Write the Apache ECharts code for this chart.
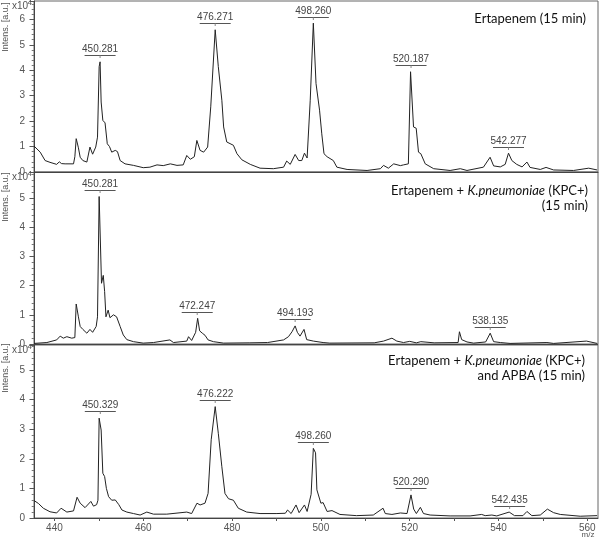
<!DOCTYPE html>
<html><head><meta charset="utf-8">
<script src="https://cdn.jsdelivr.net/npm/echarts@6/dist/echarts.min.js"></script>
<style>html,body{margin:0;padding:0;background:#fff}#c{width:600px;height:539px}</style>
</head><body><div id="c"></div>
<script>
// ---- Panel 1: Ertapenem (15 min)
const mz1 = [435.4,436.8,437.9,439.0,440.5,441.1,441.6,442.4,444.3,444.6,444.9,445.2,445.4,445.8,446.4,447.3,448.0,448.6,449.3,449.7,450.07,450.28,450.52,450.9,451.4,451.9,452.4,452.9,453.7,454.2,454.8,455.9,457.8,460.0,461.5,463.1,464.5,466.1,467.6,469.0,469.8,470.6,471.5,472.07,472.8,473.6,474.5,475.2,476.2,476.9,477.7,478.1,478.8,480.3,481.1,482.2,484.1,486.3,489.3,491.6,492.3,493.1,494.2,495.0,495.7,496.3,496.9,497.6,498.3,498.9,499.2,499.7,500.2,500.7,501.4,502.8,503.6,505.9,510.4,513.4,514.1,515.2,516.4,517.9,518.6,519.7,520.19,520.86,521.46,521.98,522.5,523.5,525.4,529.1,531.4,532.9,536.6,538.1,538.9,540.4,541.5,542.25,543.0,544.1,545.3,546.4,547.1,549.4,550.7,552.4,556.9,560.3,562.2];
const int1 = [1.02,0.78,0.45,0.38,0.30,0.40,0.33,0.32,0.32,0.60,1.31,1.10,0.95,0.58,0.45,0.39,0.98,0.70,0.98,1.37,4.14,4.33,2.75,2.03,1.93,1.11,1.00,0.78,0.85,0.80,0.45,0.32,0.26,0.17,0.19,0.28,0.25,0.32,0.26,0.28,0.65,0.50,0.60,1.24,0.85,0.78,0.98,2.56,5.59,4.14,2.82,1.77,1.18,1.05,0.72,0.48,0.30,0.15,0.13,0.19,0.43,0.30,0.69,0.45,0.45,0.74,0.55,2.82,5.85,3.48,3.50,2.43,1.50,0.72,0.60,0.45,0.19,0.10,0.06,0.13,0.26,0.15,0.32,0.25,0.28,0.32,3.94,1.77,1.72,0.78,0.72,0.32,0.13,0.06,0.13,0.06,0.19,0.58,0.24,0.20,0.30,0.74,0.45,0.30,0.20,0.39,0.18,0.10,0.18,0.08,0.06,0.15,0.08];
const peak1Text = ['450.281','476.271','498.260','520.187','542.277'];
const peak1MZ = [450.28,476.2,498.3,520.3,542.25];
const peak1Int = [4.33,5.59,5.85,3.94,0.74];

// ---- Panel 2: Ertapenem + K.pneumoniae (KPC+) (15 min)
const mz2 = [435.4,438.3,440.5,441.3,442.0,442.8,443.9,444.6,444.9,445.4,445.8,446.4,447.3,448.0,448.6,449.4,449.7,450.07,450.29,450.6,451.0,451.3,451.6,452.1,452.5,453.3,454.0,454.8,455.5,456.3,457.8,460.0,462.3,466.0,466.8,469.8,470.2,470.9,471.8,472.25,472.7,473.3,473.9,474.6,475.8,478.1,484.0,488.0,491.6,492.7,493.5,494.2,494.7,495.3,496.2,496.8,498.3,500.5,502.0,512.0,514.1,516.0,517.1,518.6,520.0,521.5,522.5,525.5,530.9,531.2,531.7,532.9,534.4,537.1,538.13,538.9,540.4,542.6,550.9,552.4,559.8,562.2];
const int2 = [0.02,0.05,0.14,0.27,0.20,0.25,0.20,0.22,1.37,0.93,0.60,0.50,0.37,0.50,0.40,0.60,0.93,5.05,5.03,2.08,2.35,1.80,0.93,1.16,0.90,1.00,0.93,0.60,0.31,0.15,0.08,0.03,0.05,0.14,0.05,0.10,0.25,0.12,0.40,0.88,0.45,0.37,0.30,0.14,0.08,0.03,0.04,0.05,0.14,0.25,0.42,0.62,0.40,0.27,0.50,0.15,0.10,0.05,0.03,0.04,0.10,0.20,0.10,0.05,0.09,0.04,0.08,0.04,0.05,0.42,0.15,0.07,0.03,0.07,0.37,0.08,0.05,0.02,0.05,0.02,0.10,0.02];
const peak2Text = ['450.281','472.247','494.193','538.135'];
const peak2MZ = [450.28,472.15,494.2,538.13];
const peak2Int = [5.05,0.88,0.62,0.37];

// ---- Panel 3: Ertapenem + K.pneumoniae (KPC+) and APBA (15 min)
const mz3 = [435.4,436.4,437.5,439.0,440.5,441.5,442.8,444.3,445.1,445.8,446.9,448.2,448.8,449.5,449.8,450.07,450.33,450.52,450.9,451.3,451.7,452.2,452.9,453.7,454.5,455.2,456.3,457.8,459.3,460.8,462.3,465.3,469.8,470.9,472.1,472.8,473.9,474.6,475.3,476.2,476.9,477.7,478.4,479.2,480.3,481.4,483.3,486.3,490.1,492.0,492.5,493.3,494.4,495.1,496.3,496.9,497.8,498.3,498.8,499.1,499.5,500.0,500.5,501.4,502.5,504.3,508.0,511.8,514.0,514.5,516.0,517.9,519.4,520.29,520.9,521.5,522.4,523.1,524.6,529.1,533.6,536.2,537.0,538.5,539.6,542.4,543.6,545.5,546.4,547.5,549.4,551.0,552.4,553.9,558.4,562.2];
const int3 = [0.59,0.49,0.33,0.21,0.17,0.33,0.20,0.24,0.70,0.50,0.35,0.56,0.40,0.45,0.60,3.37,3.40,2.97,1.51,1.40,1.00,0.72,0.60,0.61,0.45,0.27,0.20,0.15,0.10,0.20,0.13,0.13,0.20,0.15,0.50,0.44,0.50,0.83,2.64,3.76,2.86,1.73,0.83,0.65,0.60,0.33,0.20,0.15,0.15,0.16,0.27,0.15,0.44,0.18,0.44,0.22,0.80,2.35,2.20,0.95,0.90,0.50,0.52,0.22,0.25,0.12,0.08,0.10,0.33,0.15,0.12,0.17,0.15,0.78,0.30,0.15,0.36,0.15,0.10,0.07,0.07,0.12,0.08,0.10,0.07,0.20,0.08,0.08,0.22,0.08,0.10,0.30,0.18,0.12,0.06,0.08];
const peak3Text = ['450.329','476.222','498.260','520.290','542.435'];
const peak3MZ = [450.33,476.2,498.3,520.3,542.5];
const peak3Int = [3.40,3.76,2.35,0.78,0.20];

const xTicks = [440,450,460,470,480,490,500,510,520,530,540,550,560];
const xLabels = [440,460,480,500,520,540,560];
const yMax = [6.72, 5.89, 5.84];

const NARROW = "'Liberation Sans Narrow','Liberation Sans',Arial,sans-serif";
const GRAY = '#555';
const zip = (a, b) => a.map((v, i) => [v, b[i]]);

const grids = [
  {left: 34, right: 2, top: 1, height: 171},
  {left: 34, right: 2, top: 172, height: 172},
  {left: 34, right: 2, top: 345, height: 173}
].map(g => Object.assign(g, {show: true, borderColor: '#666', borderWidth: 1, containLabel: false}));

const xAxes = [0,1,2].map(i => ({
  type: 'value', gridIndex: i, min: 435.4, max: 562.4,
  axisLine: {show: true, onZero: false, lineStyle: {color: '#444', width: 1}},
  axisTick: i === 2 ? {show: true, length: 3, inside: false, customValues: xTicks, lineStyle: {color: '#555'}} : {show: false},
  axisLabel: i === 2 ? {show: true, customValues: xLabels, margin: 5, color: GRAY, fontSize: 10, fontFamily: NARROW} : {show: false},
  splitLine: {show: false}
}));

const yAxes = [0,1,2].map(i => ({
  type: 'value', gridIndex: i, min: 0, max: yMax[i], interval: 1,
  axisLine: {show: true, lineStyle: {color: '#444', width: 1}},
  axisTick: {show: true, length: 4.5, lineStyle: {color: '#555'}},
  minorTick: {show: true, splitNumber: 5, length: 2.3, lineStyle: {color: '#777'}},
  axisLabel: {margin: 9, color: GRAY, fontSize: 10, fontFamily: NARROW,
    formatter: v => Number.isInteger(Math.round(v*1000)/1000) && Math.abs(v - Math.round(v)) < 1e-6 ? String(Math.round(v)) : ''},
  splitLine: {show: false}
}));

function labelSeries(idx, mzs, ints, texts) {
  return {
    type: 'custom', xAxisIndex: idx, yAxisIndex: idx, clip: false, silent: true, z: 5,
    data: zip(mzs, ints),
    renderItem(params, api) {
      const p = api.coord([api.value(0), api.value(1)]);
      const txt = texts[params.dataIndex];
      const uy = Math.round(p[1] - 6.5) + 0.5;
      const w = 31;
      return {type: 'group', children: [
        {type: 'line', shape: {x1: p[0] - w/2, y1: uy, x2: p[0] + w/2, y2: uy}, style: {stroke: '#555', lineWidth: 1}},
        {type: 'line', shape: {x1: p[0], y1: uy, x2: p[0], y2: uy + 2.5}, style: {stroke: '#888', lineWidth: 1}},
        {type: 'text', style: {text: txt, x: p[0], y: uy - 1, align: 'center', verticalAlign: 'bottom',
          fontSize: 10, fontFamily: NARROW, fill: '#444'}}
      ]};
    }
  };
}

const spectra = [zip(mz1, int1), zip(mz2, int2), zip(mz3, int3)];
const series = spectra.map((d, i) => ({
  type: 'line', xAxisIndex: i, yAxisIndex: i, data: d, showSymbol: false, symbol: 'none',
  lineStyle: {color: '#222', width: 1}, smooth: false, z: 3
}));
series.push(labelSeries(0, peak1MZ, peak1Int, peak1Text));
series.push(labelSeries(1, peak2MZ, peak2Int, peak2Text));
series.push(labelSeries(2, peak3MZ, peak3Int, peak3Text));

const titleFont = {fontFamily: 'Lato, "Open Sans", sans-serif', fontSize: 13, fill: '#111'};
const rich = {
  n: {fontFamily: 'Lato, sans-serif', fontSize: 13, color: '#111'},
  i: {fontFamily: 'Lato, sans-serif', fontSize: 13, fontStyle: 'italic', color: '#111'}
};
function tText(text, x, y) {
  return {type: 'text', x: x, y: y, silent: true, style: Object.assign({text: text, align: 'right', verticalAlign: 'middle', rich: rich}, titleFont)};
}
function unitLabel(yTop) {
  return [
    {type: 'text', x: 12, y: yTop + 5, silent: true, style: {text: 'x10', fontSize: 10, fontFamily: NARROW, fill: GRAY, verticalAlign: 'middle'}},
    {type: 'text', x: 27.5, y: yTop + 1.5, silent: true, style: {text: '4', fontSize: 8, fontFamily: NARROW, fill: GRAY, verticalAlign: 'middle'}}
  ];
}
function intensLabel(cy) {
  return {type: 'text', x: 6, y: cy, rotation: Math.PI/2, silent: true,
    style: {text: 'Intens. [a.u.]', fontSize: 9, fontFamily: NARROW, fill: GRAY, align: 'center', verticalAlign: 'middle'}};
}

const graphics = [
  tText('{n|Ertapenem (15 min)}', 586, 19),
  tText('{n|Ertapenem + }{i|K.pneumoniae}{n| (KPC+)}', 588, 191),
  tText('{n|(15 min)}', 588, 206),
  tText('{n|Ertapenem + }{i|K.pneumoniae}{n| (KPC+)}', 585, 361),
  tText('{n|and APBA (15 min)}', 585, 376),
  intensLabel(27), intensLabel(197), intensLabel(368),
  {type: 'text', x: 588, y: 535, silent: true, style: {text: 'm/z', fontSize: 8, fontFamily: NARROW, fill: GRAY, align: 'center', verticalAlign: 'middle'}}
].concat(unitLabel(1), unitLabel(172), unitLabel(345));

const chart = echarts.init(document.getElementById('c'), null, {renderer: 'canvas'});
chart.setOption({
  animation: false,
  backgroundColor: '#fff',
  grid: grids,
  xAxis: xAxes,
  yAxis: yAxes,
  series: series,
  graphic: graphics
});
</script></body></html>
